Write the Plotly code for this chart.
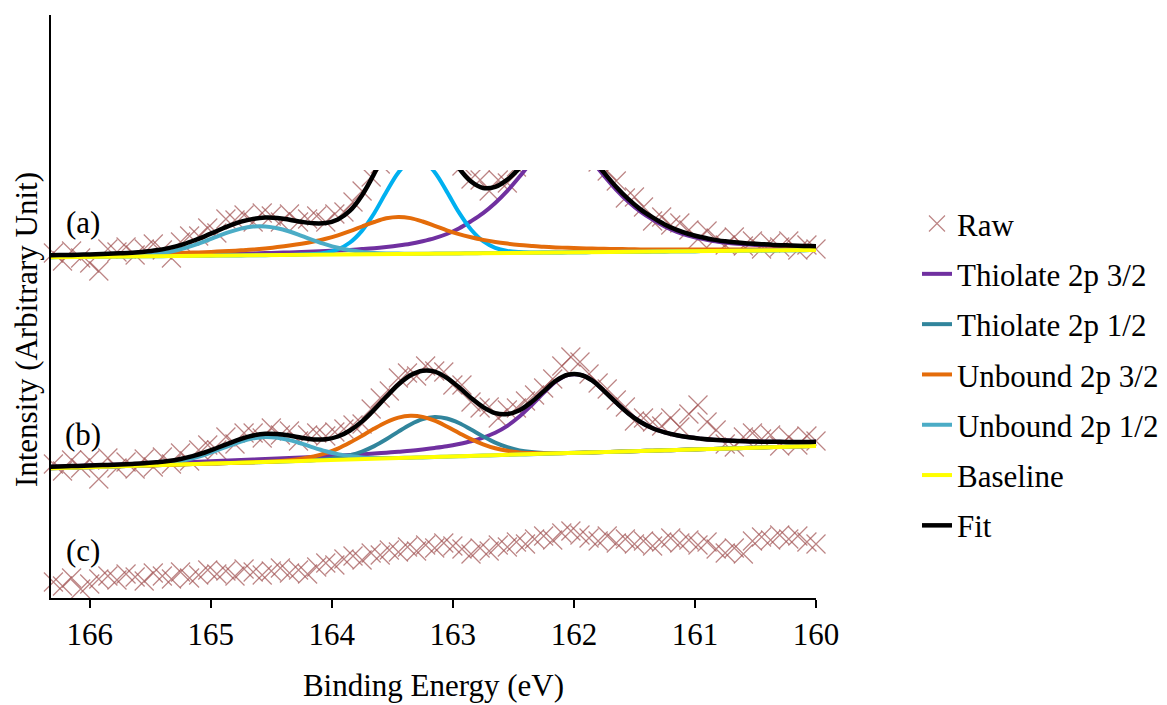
import plotly.graph_objects as go

FONT = "Liberation Serif"

# ---------------- data ----------------
# energy grid for the fitted curves (eV)
energy = [166.35, 166.25, 166.15, 166.05, 165.95, 165.85, 165.75, 165.65, 165.55, 165.45,
          165.35, 165.25, 165.15, 165.05, 164.95, 164.85, 164.75, 164.65, 164.55, 164.45,
          164.35, 164.25, 164.15, 164.05, 163.95, 163.85, 163.75, 163.65, 163.55, 163.45,
          163.35, 163.25, 163.15, 163.05, 162.95, 162.85, 162.75, 162.65, 162.55, 162.45,
          162.35, 162.25, 162.15, 162.05, 161.95, 161.85, 161.75, 161.65, 161.55, 161.45,
          161.35, 161.25, 161.15, 161.05, 160.95, 160.85, 160.75, 160.65, 160.55, 160.45,
          160.35, 160.25, 160.15, 160.05, 159.95]

# spectrum (a): baseline and net component intensities above it
baseline_a = [340.8, 340.9, 341.0, 341.1, 341.3, 341.4, 341.5, 341.6, 341.7, 341.8,
              341.9, 342.0, 342.2, 342.3, 342.4, 342.5, 342.6, 342.7, 342.8, 343.0,
              343.1, 343.2, 343.3, 343.4, 343.5, 343.6, 343.7, 343.8, 344.0, 344.1,
              344.2, 344.3, 344.4, 344.5, 344.6, 344.8, 344.9, 345.0, 345.1, 345.2,
              345.3, 345.4, 345.5, 345.7, 345.8, 345.9, 346.0, 346.1, 346.2, 346.3,
              346.4, 346.6, 346.7, 346.8, 346.9, 347.0, 347.1, 347.2, 347.4, 347.5,
              347.6, 347.7, 347.8, 347.9, 348.0]
thio32_a = [0.8, 0.8, 0.8, 0.85, 0.9, 0.95, 1.0, 1.05, 1.1, 1.2,
            1.25, 1.3, 1.4, 1.5, 1.6, 1.7, 1.8, 1.9, 2.1, 2.3,
            2.5, 2.8, 3.1, 3.5, 4.0, 4.5, 5.2, 6.0, 7.0, 8.3,
            10.0, 12.5, 15.5, 19.5, 25.0, 32.0, 40.0, 50.0, 62.0, 76.0,
            91.0, 106.0, 116.0, 116.0, 106.0, 91.0, 76.0, 62.0, 50.0, 40.0,
            32.0, 25.0, 19.5, 15.5, 12.5, 10.0, 8.3, 7.0, 6.0, 5.2,
            4.5, 4.0, 3.5, 3.1, 2.8]
thio12_a = [0, 0, 0, 0, 0, 0, 0, 0, 0, 0,
            0, 0, 0, 0, 0, 0, 0, 0, 0, 0,
            0, 0.2, 0.7, 2.0, 5.2, 11.9, 23.7, 41.0, 61.9, 81.4,
            93.4, 93.4, 81.4, 61.9, 41.0, 23.7, 11.9, 5.2, 2.0, 0.7,
            0.2, 0, 0, 0, 0, 0, 0, 0, 0, 0,
            0, 0, 0, 0, 0, 0, 0, 0, 0, 0,
            0, 0, 0, 0, 0]
unb32_a = [1.15, 1.2, 1.3, 1.4, 1.55, 1.7, 1.85, 2.0, 2.15, 2.3,
           2.6, 2.9, 3.2, 3.5, 4.0, 4.5, 5.1, 5.8, 6.8, 7.9,
           9.3, 11.0, 13.2, 15.9, 19.2, 23.2, 27.8, 32.2, 35.7, 37.0,
           35.7, 32.2, 27.8, 23.2, 19.2, 15.9, 13.2, 11.0, 9.3, 7.9,
           6.8, 5.8, 5.1, 4.5, 4.0, 3.5, 3.2, 2.9, 2.6, 2.3,
           2.15, 2.0, 1.85, 1.7, 1.55, 1.4, 1.3, 1.2, 1.15, 1.1,
           1.0, 0.95, 0.9, 0.85, 0.8]
unb12_a = [0, 0, 0, 0, 0, 0.1, 0.3, 0.6, 1.3, 2.4,
           4.1, 6.7, 10.2, 14.4, 19.0, 23.4, 26.8, 28.7, 28.7, 26.8,
           23.4, 19.0, 14.4, 10.2, 6.7, 4.1, 2.4, 1.3, 0.6, 0.3,
           0.1, 0, 0, 0, 0, 0, 0, 0, 0, 0,
           0, 0, 0, 0, 0, 0, 0, 0, 0, 0,
           0, 0, 0, 0, 0, 0, 0, 0, 0, 0,
           0, 0, 0, 0, 0]
fit_a = [2.0, 2.0, 2.1, 2.3, 2.5, 2.8, 3.2, 3.7, 4.6, 5.9,
         8.0, 10.9, 14.8, 19.4, 24.6, 29.6, 33.7, 36.4, 37.6, 37.0,
         35.2, 33.0, 31.4, 31.6, 35.1, 43.7, 59.1, 80.5, 105.2, 127.0,
         139.2, 138.1, 124.7, 104.6, 85.2, 71.6, 65.1, 66.2, 73.3, 84.6,
         98.0, 111.8, 121.1, 120.5, 110.0, 94.5, 79.2, 64.9, 52.6, 42.3,
         34.2, 27.0, 21.4, 17.2, 14.1, 11.4, 9.6, 8.2, 7.2, 6.3,
         5.5, 5.0, 4.4, 4.0, 3.6]

# spectrum (b)
baseline_b = [129.6, 130.0, 130.3, 130.7, 131.0, 131.4, 131.7, 132.1, 132.4, 132.8,
              133.1, 133.5, 133.9, 134.2, 134.6, 134.9, 135.3, 135.6, 136.0, 136.3,
              136.7, 137.1, 137.4, 137.8, 138.1, 138.5, 138.8, 139.2, 139.5, 139.9,
              140.2, 140.6, 141.0, 141.3, 141.7, 142.0, 142.4, 142.7, 143.1, 143.4,
              143.8, 144.1, 144.5, 144.9, 145.2, 145.6, 145.9, 146.3, 146.6, 147.0,
              147.3, 147.7, 148.0, 148.4, 148.8, 149.1, 149.5, 149.8, 150.2, 150.5,
              150.9, 151.2, 151.6, 151.9, 152.3]
thio32_b = [1.45, 1.5, 1.55, 1.6, 1.65, 1.7, 1.75, 1.8, 1.9, 1.95,
            2.0, 2.1, 2.2, 2.3, 2.4, 2.5, 2.65, 2.8, 2.95, 3.1,
            3.3, 3.5, 3.7, 3.9, 4.2, 4.5, 4.9, 5.3, 5.8, 6.4,
            7.1, 8.0, 9.1, 10.5, 12.3, 14.7, 18.0, 22.5, 29.0, 38.0,
            49.0, 61.0, 72.0, 78.0, 78.0, 72.0, 61.0, 49.0, 38.0, 29.0,
            22.5, 18.0, 14.7, 12.3, 10.5, 9.1, 8.0, 7.1, 6.4, 5.8,
            5.3, 4.9, 4.5, 4.2, 3.9]
thio12_b = [0, 0, 0, 0, 0, 0, 0, 0, 0, 0,
            0, 0, 0, 0, 0, 0, 0, 0, 0, 0,
            0.1, 0.2, 0.4, 1.0, 2.1, 4.2, 7.7, 12.7, 19.2, 26.5,
            33.3, 38.2, 40.0, 38.2, 33.3, 26.5, 19.2, 12.7, 7.7, 4.2,
            2.1, 1.0, 0.4, 0.2, 0.1, 0, 0, 0, 0, 0,
            0, 0, 0, 0, 0, 0, 0, 0, 0, 0,
            0, 0, 0, 0, 0]
unb32_b = [0, 0, 0, 0, 0, 0, 0, 0, 0, 0,
           0, 0, 0, 0, 0, 0, 0, 0.1, 0.2, 0.5,
           1.1, 2.2, 4.1, 7.0, 11.3, 16.9, 23.4, 30.2, 36.3, 40.5,
           42.0, 40.5, 36.3, 30.2, 23.4, 16.9, 11.3, 7.0, 4.1, 2.2,
           1.1, 0.5, 0.2, 0.1, 0, 0, 0, 0, 0, 0,
           0, 0, 0, 0, 0, 0, 0, 0, 0, 0,
           0, 0, 0, 0, 0]
unb12_b = [0, 0, 0, 0, 0, 0, 0.1, 0.2, 0.4, 0.9,
           1.8, 3.4, 5.8, 9.0, 13.0, 17.3, 21.2, 24.0, 25.0, 24.0,
           21.2, 17.3, 13.0, 9.0, 5.8, 3.4, 1.8, 0.9, 0.4, 0.2,
           0.1, 0, 0, 0, 0, 0, 0, 0, 0, 0,
           0, 0, 0, 0, 0, 0, 0, 0, 0, 0,
           0, 0, 0, 0, 0, 0, 0, 0, 0, 0,
           0, 0, 0, 0, 0]
fit_b = [1.45, 1.5, 1.6, 1.6, 1.7, 1.7, 1.9, 2.0, 2.3, 2.9,
         3.8, 5.5, 8.0, 11.3, 15.4, 19.8, 23.9, 26.9, 28.2, 27.6,
         25.7, 23.2, 21.2, 20.9, 23.4, 29.0, 37.8, 49.1, 61.7, 73.6,
         82.5, 86.7, 85.4, 78.9, 69.0, 58.1, 48.5, 42.2, 40.8, 44.4,
         52.2, 62.5, 72.6, 78.3, 78.1, 72.0, 61.0, 49.0, 38.0, 29.0,
         22.5, 18.0, 14.7, 12.3, 10.5, 9.1, 8.0, 7.1, 6.4, 5.8,
         5.3, 4.9, 4.5, 4.2, 3.9]

# raw data energies (eV)
energy_raw = [166.300, 166.225, 166.150, 166.075, 166.000, 165.925, 165.850, 165.775, 165.700, 165.625,
              165.550, 165.475, 165.400, 165.325, 165.250, 165.175, 165.100, 165.025, 164.950, 164.875,
              164.800, 164.725, 164.650, 164.575, 164.500, 164.425, 164.350, 164.275, 164.200, 164.125,
              164.050, 163.975, 163.900, 163.825, 163.750, 163.675, 163.600, 163.525, 163.450, 163.375,
              163.300, 163.225, 163.150, 163.075, 163.000, 162.925, 162.850, 162.775, 162.700, 162.625,
              162.550, 162.475, 162.400, 162.325, 162.250, 162.175, 162.100, 162.025, 161.950, 161.875,
              161.800, 161.725, 161.650, 161.575, 161.500, 161.425, 161.350, 161.275, 161.200, 161.125,
              161.050, 160.975, 160.900, 160.825, 160.750, 160.675, 160.600, 160.525, 160.450, 160.375,
              160.300, 160.225, 160.150, 160.075, 160.000]
raw_a = [345, 337, 347, 340, 335, 327, 349, 346, 351, 343,
         349, 354, 348, 340, 356, 362, 362, 370, 365, 379,
         378, 383, 376, 385, 382, 376, 384, 376, 379, 382,
         376, 384, 386, 396, 407, 421, 434, 459, 469, 483,
         479, 481, 466, 458, 443, 432, 419, 418, 407, 418,
         415, 431, 440, 445, 460, 462, 470, 461, 458, 441,
         436, 427, 417, 400, 401, 391, 377, 381, 373, 375,
         368, 359, 367, 360, 353, 361, 352, 357, 349, 355,
         351, 357, 348, 353, 349]
raw_b = [134, 127, 138, 130, 138, 119, 140, 130, 136, 129,
         139, 131, 141, 134, 145, 137, 148, 153, 148, 161,
         154, 165, 165, 160, 170, 163, 167, 157, 163, 165,
         162, 166, 169, 173, 174, 189, 200, 207, 220, 225,
         222, 232, 227, 226, 213, 213, 196, 190, 191, 180,
         188, 190, 197, 203, 210, 219, 232, 241, 236, 224,
         215, 209, 198, 191, 177, 180, 176, 172, 180, 171,
         184, 193, 176, 168, 154, 151, 161, 165, 159, 163,
         152, 161, 153, 162, 157]
raw_c = [16, 12, 20, 9, 14, 19, 22, 18, 24, 21,
         17, 25, 22, 19, 26, 20, 23, 28, 24, 27,
         22, 29, 26, 23, 27, 30, 25, 28, 24, 31,
         35, 33, 39, 42, 38, 45, 43, 48, 46, 51,
         47, 53, 50, 55, 52, 49, 44, 50, 47, 53,
         51, 56, 54, 59, 62, 58, 65, 67, 63, 60,
         57, 62, 55, 59, 54, 57, 52, 56, 60, 55,
         58, 53, 56, 49, 45, 50, 44, 57, 61, 58,
         63, 59, 62, 56, 54]

x_ticks = [166, 165, 164, 163, 162, 161, 160]
panel_labels = ["(a)", "(b)", "(c)"]
panel_label_y = [376, 164, 48]
clip_level = 428

# ---------------- styles ----------------
RAW_COLOR = "rgba(160,80,80,0.7)"
C_T32 = "#7030a0"
C_T12 = "#31859c"
C_T12A = "#00b0f0"
C_U32 = "#e46c0a"
C_U12 = "#4bacc6"
C_BL = "#ffff00"
C_FIT = "#000000"


def add(y_base, y_net):
    return [b + n for b, n in zip(y_base, y_net)]


fig = go.Figure()

# raw data
for i, r in enumerate([raw_a, raw_b, raw_c]):
    fig.add_trace(go.Scatter(
        x=energy_raw, y=r, mode="markers", name="Raw", legendgroup="raw",
        showlegend=(i == 0), cliponaxis=False,
        marker=dict(symbol="x-thin", size=19, line=dict(color=RAW_COLOR, width=1.2),
                    color=RAW_COLOR)))

line_w = 4
comps = [
    ("Thiolate 2p 3/2", "t32", C_T32, [(baseline_a, thio32_a), (baseline_b, thio32_b)]),
    ("Thiolate 2p 1/2", "t12", C_T12, [(baseline_b, thio12_b)]),
    ("Unbound 2p 3/2", "u32", C_U32, [(baseline_a, unb32_a), (baseline_b, unb32_b)]),
    ("Unbound 2p 1/2", "u12", C_U12, [(baseline_a, unb12_a), (baseline_b, unb12_b)]),
]
for name, grp, col, series in comps:
    for j, (bl, net) in enumerate(series):
        fig.add_trace(go.Scatter(
            x=energy, y=add(bl, net), mode="lines", name=name, legendgroup=grp,
            showlegend=(j == 0), line=dict(color=col, width=line_w, shape="spline")))
    if grp == "t12":
        # thiolate 2p 1/2 of spectrum (a) is drawn in a brighter cyan
        fig.add_trace(go.Scatter(
            x=energy, y=add(baseline_a, thio12_a), mode="lines", name=name,
            legendgroup=grp, showlegend=False,
            line=dict(color=C_T12A, width=line_w, shape="spline")))

for j, bl in enumerate([baseline_a, baseline_b]):
    fig.add_trace(go.Scatter(
        x=energy, y=bl, mode="lines", name="Baseline", legendgroup="bl",
        showlegend=(j == 0), line=dict(color=C_BL, width=line_w)))

for j, (bl, f) in enumerate([(baseline_a, fit_a), (baseline_b, fit_b)]):
    fig.add_trace(go.Scatter(
        x=energy, y=add(bl, f), mode="lines", name="Fit", legendgroup="fit",
        showlegend=(j == 0), line=dict(color=C_FIT, width=4.5, shape="spline")))

# white mask hiding the top of spectrum (a), as in the original figure
fig.add_shape(type="rect", xref="paper", yref="y", x0=0.006, x1=1.02,
              y0=clip_level, y1=583, fillcolor="white", line=dict(width=0),
              layer="above")

annotations = []
for lab, yy in zip(panel_labels, panel_label_y):
    annotations.append(dict(text=lab, xref="paper", yref="y", x=0.042, y=yy,
                            showarrow=False, xanchor="center", yanchor="middle",
                            font=dict(family=FONT, size=31, color="black")))
annotations.append(dict(text="Intensity (Arbitrary Unit)", xref="paper", yref="paper",
                        x=-0.031, y=0.46, textangle=-90, showarrow=False,
                        xanchor="center", yanchor="middle",
                        font=dict(family=FONT, size=31, color="black")))

fig.update_layout(
    width=1167, height=705,
    margin=dict(l=51, r=351, t=15, b=107, autoexpand=False),
    paper_bgcolor="white", plot_bgcolor="white",
    font=dict(family=FONT, size=31, color="black"),
    showlegend=True,
    legend=dict(x=1.132, y=0.688, xanchor="left", yanchor="top",
                font=dict(family=FONT, size=31, color="black"),
                traceorder="grouped", tracegroupgap=7, bgcolor="rgba(0,0,0,0)"),
    annotations=annotations,
    xaxis=dict(range=[166.32, 160.0], tickvals=x_ticks, ticktext=[str(t) for t in x_ticks],
               showline=True, linecolor="black", linewidth=1.5, ticks="outside",
               ticklen=8, tickwidth=1.5, tickcolor="black", showgrid=False, zeroline=False,
               tickfont=dict(family=FONT, size=31, color="black"),
               title=dict(text="Binding Energy (eV)", standoff=23,
                          font=dict(family=FONT, size=31, color="black"))),
    yaxis=dict(range=[0, 583], showline=True, linecolor="black", linewidth=1.5,
               showticklabels=False, ticks="", showgrid=False, zeroline=False),
)

fig.write_html("out.html")
